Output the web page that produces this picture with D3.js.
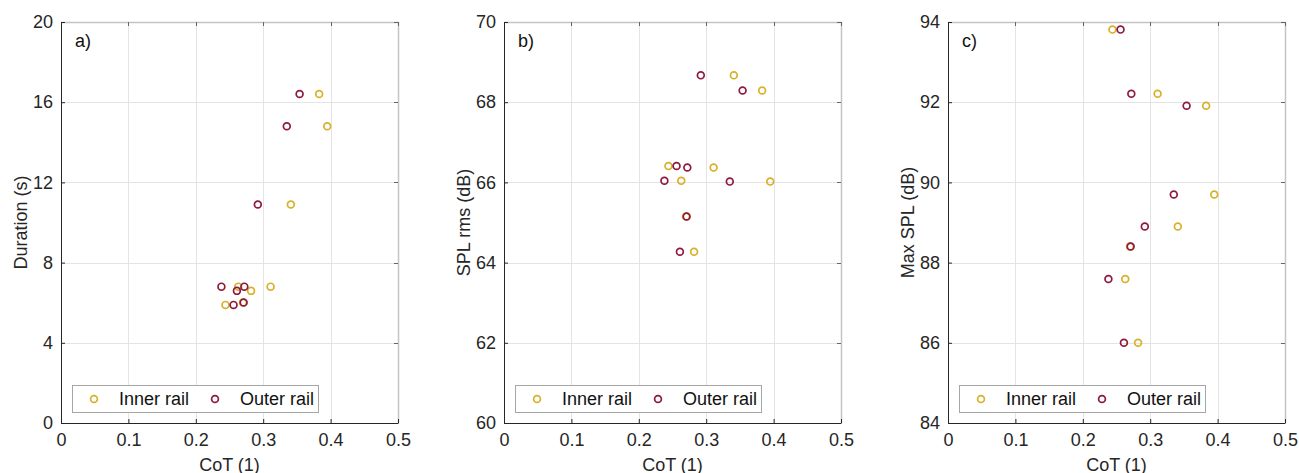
<!DOCTYPE html>
<head>
<style>
body { margin: 0; background: #fff; }
svg { font-family: "Liberation Sans", Arial, sans-serif; }
</style>
<script src="https://d3js.org/d3.v7.min.js"></script>
</head>
<body>
<svg id="chart" width="1299" height="473"></svg>
<script>

// CoT values of each run, inner and outer rail
var cotInner = [0.383, 0.395, 0.341, 0.311, 0.282, 0.263, 0.270, 0.244];
var cotOuter = [0.354, 0.335, 0.292, 0.238, 0.272, 0.261, 0.256, 0.271];

// panel a) duration (s)
var durationInner = [16.41, 14.80, 10.90, 6.80, 6.59, 6.80, 6.01, 5.89];
var durationOuter = [16.41, 14.80, 10.90, 6.80, 6.80, 6.59, 5.89, 6.01];

// panel b) SPL rms (dB)
var splRmsInner = [68.29, 66.02, 68.67, 66.37, 64.27, 66.04, 65.15, 66.41];
var splRmsOuter = [68.29, 66.02, 68.67, 66.04, 66.37, 64.27, 66.41, 65.15];

// panel c) max SPL (dB)
var maxSplInner = [91.91, 89.70, 88.90, 92.21, 86.00, 87.59, 88.40, 93.81];
var maxSplOuter = [91.91, 89.70, 88.90, 87.59, 92.21, 86.00, 93.81, 88.40];

var xTicks = [0, 0.1, 0.2, 0.3, 0.4, 0.5];
var panelTags = ["a)", "b)", "c)"];
var yLabels = ["Duration (s)", "SPL rms (dB)", "Max SPL (dB)"];
var yDomains = [[0, 20], [60, 70], [84, 94]];
var yTicks = [[0, 4, 8, 12, 16, 20], [60, 62, 64, 66, 68, 70], [84, 86, 88, 90, 92, 94]];
var seriesNames = ["Inner rail", "Outer rail"];

var innerColor = "#d8b12a";
var outerColor = "#8e1b3e";
var textColor = "#262626";
var fontSize = "18px";

var panels = [
    { left: 61, inner: durationInner, outer: durationOuter },
    { left: 504, inner: splRmsInner, outer: splRmsOuter },
    { left: 948, inner: maxSplInner, outer: maxSplOuter }
];

var plotW = 337, plotTop = 22, plotBottom = 423;
var svg = d3.select("#chart");

panels.forEach(function(p, i) {
    var x = d3.scaleLinear().domain([0, 0.5]).range([p.left, p.left + plotW]);
    var y = d3.scaleLinear().domain(yDomains[i]).range([plotBottom, plotTop]);
    var g = svg.append("g");

    // grid
    g.selectAll(".vgrid").data(xTicks).enter().append("line")
        .attr("x1", function(d) { return Math.round(x(d)) + 0.5; })
        .attr("x2", function(d) { return Math.round(x(d)) + 0.5; })
        .attr("y1", plotTop).attr("y2", plotBottom)
        .style("stroke", "#e4e4e4");
    g.selectAll(".hgrid").data(yTicks[i]).enter().append("line")
        .attr("y1", function(d) { return Math.round(y(d)) + 0.5; })
        .attr("y2", function(d) { return Math.round(y(d)) + 0.5; })
        .attr("x1", p.left).attr("x2", p.left + plotW)
        .style("stroke", "#e4e4e4");

    // light top / right frame
    g.append("path")
        .attr("d", "M" + p.left + "," + (plotTop + 0.5) + "H" + (p.left + plotW + 0.5) + "V" + plotBottom)
        .style("fill", "none").style("stroke", "#c4c4c4").style("stroke-width", 1.5);

    // inward ticks on top and right
    g.selectAll(".tt").data(xTicks).enter().append("line")
        .attr("x1", function(d) { return Math.round(x(d)) + 0.5; })
        .attr("x2", function(d) { return Math.round(x(d)) + 0.5; })
        .attr("y1", plotTop).attr("y2", plotTop + 4)
        .style("stroke", "#666");
    g.selectAll(".rt").data(yTicks[i]).enter().append("line")
        .attr("y1", function(d) { return Math.round(y(d)) + 0.5; })
        .attr("y2", function(d) { return Math.round(y(d)) + 0.5; })
        .attr("x1", p.left + plotW - 4).attr("x2", p.left + plotW)
        .style("stroke", "#666");

    // bottom and left axes
    var xAxis = g.append("g")
        .attr("transform", "translate(0," + plotBottom + ")")
        .call(d3.axisBottom(x).tickValues(xTicks).tickSizeInner(-4).tickSizeOuter(0)
            .tickPadding(10).tickFormat(function(d) { return d === 0 ? "0" : d3.format(".1f")(d); }));
    var yAxis = g.append("g")
        .attr("transform", "translate(" + p.left + ",0)")
        .call(d3.axisLeft(y).tickValues(yTicks[i]).tickSizeInner(-4).tickSizeOuter(0).tickPadding(8));
    [xAxis, yAxis].forEach(function(a) {
        a.select(".domain").style("stroke", textColor);
        a.selectAll(".tick line").style("stroke", textColor);
        a.selectAll("text").style("font-size", fontSize).style("fill", textColor)
            .style("font-family", "'Liberation Sans', Arial, sans-serif");
    });

    // labels
    svg.append("text")
        .attr("x", p.left + plotW / 2).attr("y", 471)
        .attr("text-anchor", "middle")
        .style("font-size", fontSize).style("fill", textColor)
        .text("CoT (1)");
    svg.append("text")
        .attr("transform", "translate(" + (p.left - 34) + "," + ((plotTop + plotBottom) / 2) + ") rotate(-90)")
        .attr("text-anchor", "middle")
        .style("font-size", fontSize).style("fill", textColor)
        .text(yLabels[i]);
    svg.append("text")
        .attr("x", p.left + 14).attr("y", 47)
        .style("font-size", fontSize).style("fill", "#111")
        .text(panelTags[i]);

    // points: inner first, outer drawn above
    [[cotInner, p.inner, innerColor], [cotOuter, p.outer, outerColor]].forEach(function(s) {
        g.selectAll(null).data(s[1]).enter().append("circle")
            .attr("cx", function(d, k) { return x(s[0][k]); })
            .attr("cy", function(d) { return y(d); })
            .attr("r", 3.4)
            .style("fill", "none")
            .style("stroke", s[2])
            .style("stroke-width", 1.7);
    });

    // legend
    var lg = g.append("g").attr("transform", "translate(" + (p.left + 11) + ",385)");
    lg.append("rect").attr("x", 0.5).attr("y", 0.5).attr("width", 246).attr("height", 27)
        .style("fill", "#fff").style("stroke", "#a6a6a6");
    var offs = [0, 121];
    seriesNames.forEach(function(name, k) {
        lg.append("circle")
            .attr("cx", 22 + offs[k]).attr("cy", 14).attr("r", 3.4)
            .style("fill", "none").style("stroke", k === 0 ? innerColor : outerColor)
            .style("stroke-width", 1.7);
        lg.append("text")
            .attr("x", 47 + offs[k]).attr("y", 20)
            .style("font-size", fontSize).style("fill", "#111")
            .text(name);
    });
});

</script>
</body>
</html>
